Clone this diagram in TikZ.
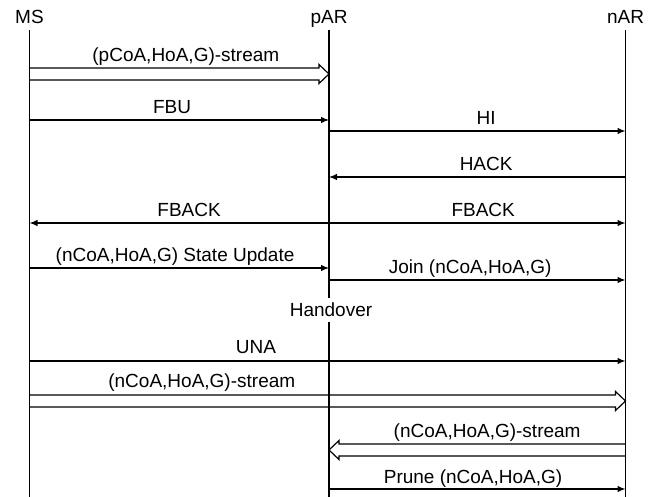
\documentclass[tikz,border=0pt]{standalone}
\usepackage{fontspec}
\setmainfont{Liberation Sans}
\usetikzlibrary{arrows.meta, positioning}

\begin{document}
\begin{tikzpicture}[x = 1pt, y = -1pt, font = \fontsize{19}{22}\selectfont,
  head/.style = {anchor = base, inner sep = 0pt, outer sep = 6pt, text depth = 0pt},
  life/.style = {line width = 1.2pt},
  msg/.style = {line width = 1.2pt, -{Latex[length = 8pt, width = 6.5pt]}},
  pipe/.style = {line width = 1.2pt, line join = miter},
  lbl/.style = {anchor = base, inner sep = 0pt, yshift = 6pt}]
\useasboundingbox (0,0) rectangle (657,497);
\node[head] (MS) at (29.5,24) {MS};
\node[head] (pAR) at (329,24) {pAR};
\node[head] (nAR) at (625.5,24) {nAR};
\coordinate (bot) at (0,497);
\foreach \n in {MS,pAR,nAR}
\draw[life] (\n.south) -- (\n |- bot);
\node[anchor = base, fill = white, inner sep = 5pt] (ho) at (331,317) {Handover};
% stream MS -> pAR
\draw[pipe] (MS |- 0,68) -- node[lbl, pos = 0.54]{(pCoA,HoA,G)-stream} ([xshift = -10pt]pAR |- 0,68)
  -- ([xshift = -10pt]pAR |- 0,64.5) -- (pAR |- 0,74) -- ([xshift = -10pt]pAR |- 0,83.5)
  -- ([xshift = -10pt]pAR |- 0,80) -- (MS |- 0,80);
\draw[msg] (MS |- 0,120) -- node[lbl, pos = 0.476]{FBU} (pAR |- 0,120);
\draw[msg] (pAR |- 0,131) -- node[lbl, pos = 0.53]{HI} (nAR |- 0,131);
\draw[msg] (nAR |- 0,177) -- node[lbl, pos = 0.47]{HACK} (pAR |- 0,177);
\draw[msg] (pAR |- 0,223) -- node[lbl, pos = 0.467]{FBACK} (MS |- 0,223);
\draw[msg] (pAR |- 0,223) -- node[lbl, pos = 0.52]{FBACK} (nAR |- 0,223);
\draw[msg] (MS |- 0,268) -- node[lbl, pos = 0.486]{(nCoA,HoA,G) State Update} (pAR |- 0,268);
\draw[msg] (pAR |- 0,280) -- node[lbl, pos = 0.476]{Join (nCoA,HoA,G)} (nAR |- 0,280);
\draw[msg] (MS |- 0,361) -- node[lbl, pos = 0.38, yshift = 1pt]{UNA} (nAR |- 0,361);
% stream MS -> nAR
\draw[pipe] (MS |- 0,395) -- node[lbl, pos = 0.294, yshift = 1pt]{(nCoA,HoA,G)-stream} ([xshift = -10pt]nAR |- 0,395)
  -- ([xshift = -10pt]nAR |- 0,391.5) -- (nAR |- 0,401) -- ([xshift = -10pt]nAR |- 0,410.5)
  -- ([xshift = -10pt]nAR |- 0,407) -- (MS |- 0,407);
% stream nAR -> pAR
\draw[pipe] (nAR |- 0,444) -- node[lbl, pos = 0.483]{(nCoA,HoA,G)-stream} ([xshift = 10pt]pAR |- 0,444)
  -- ([xshift = 10pt]pAR |- 0,440.5) -- (pAR |- 0,450) -- ([xshift = 10pt]pAR |- 0,459.5)
  -- ([xshift = 10pt]pAR |- 0,456) -- (nAR |- 0,456);
\draw[msg] (pAR |- 0,489) -- node[lbl, pos = 0.486]{Prune (nCoA,HoA,G)} (nAR |- 0,489);
\end{tikzpicture}
\end{document}
